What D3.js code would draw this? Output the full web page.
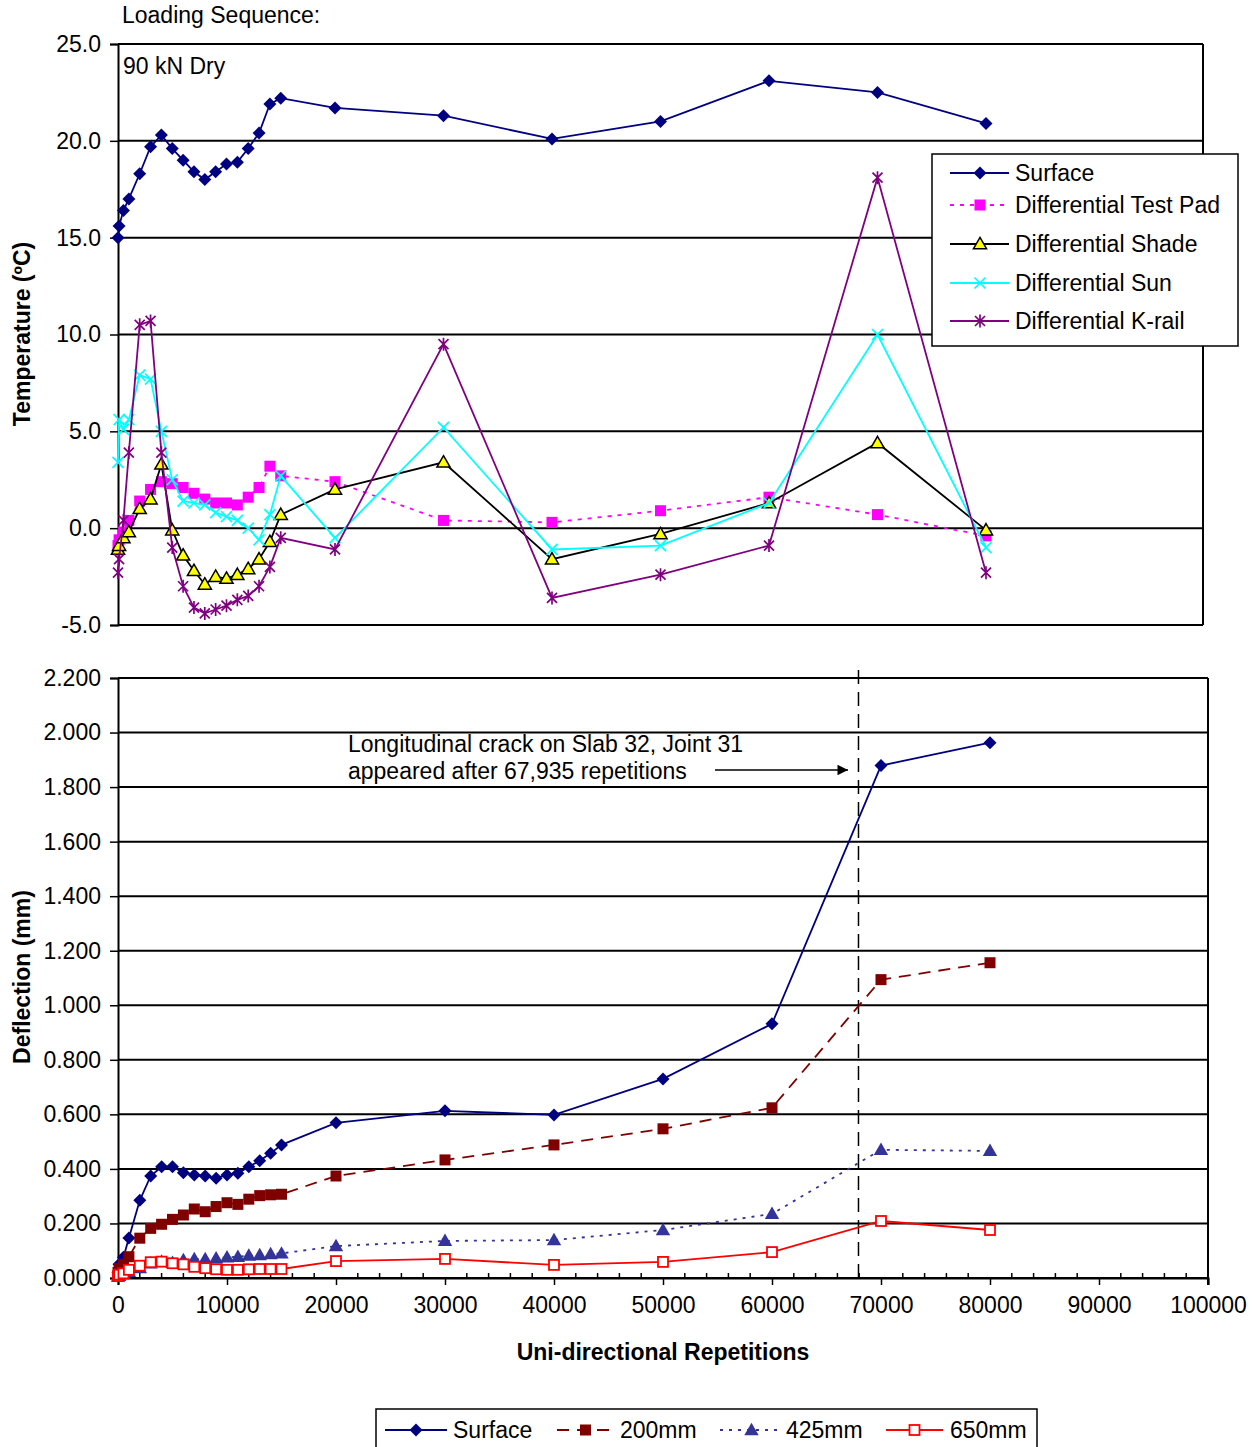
<!DOCTYPE html>
<html>
<head>
<meta charset="utf-8">
<script src="https://cdn.jsdelivr.net/npm/d3@7"></script>
<style>
  body { margin: 0; background: #fff; }
  svg { font-family: "Liberation Sans", Arial, sans-serif; }
</style>
</head>
<body>
<div id="chart"></div>
<script>
// repetitions (shared x values for every series)
const reps = [0, 100, 500, 1000, 2000, 3000, 4000, 5000, 6000, 7000, 8000, 9000, 10000,
  11000, 12000, 13000, 14000, 15000, 20000, 30000, 40000, 50000, 60000, 70000, 80000];

// temperature (ºC)
const tSurface = [15.0, 15.6, 16.4, 17.0, 18.3, 19.7, 20.3, 19.6, 19.0, 18.4, 18.0, 18.4, 18.8,
  18.9, 19.6, 20.4, 21.9, 22.2, 21.7, 21.3, 20.1, 21.0, 23.1, 22.5, 20.9];
const tTestPad = [-0.9, -0.6, -0.2, 0.4, 1.4, 2.0, 2.4, 2.3, 2.1, 1.8, 1.5, 1.3, 1.3,
  1.2, 1.6, 2.1, 3.2, 2.7, 2.4, 0.4, 0.3, 0.9, 1.6, 0.7, -0.4];
const tShade = [-1.1, -0.9, -0.5, -0.2, 1.0, 1.5, 3.3, -0.1, -1.4, -2.2, -2.9, -2.5, -2.6,
  -2.4, -2.1, -1.6, -0.7, 0.7, 2.0, 3.4, -1.6, -0.3, 1.3, 4.4, -0.1];
const tSun = [3.4, 5.6, 5.1, 5.6, 7.9, 7.7, 5.0, 2.5, 1.4, 1.3, 1.2, 0.8, 0.6,
  0.4, 0.0, -0.6, 0.7, 2.7, -0.5, 5.2, -1.1, -0.9, 1.3, 10.0, -1.0];
const tKrail = [-2.3, -1.6, 0.4, 3.9, 10.5, 10.7, 3.9, -1.0, -3.0, -4.1, -4.4, -4.2, -4.0,
  -3.7, -3.5, -3.0, -2.0, -0.5, -1.1, 9.5, -3.6, -2.4, -0.9, 18.1, -2.3];

// deflection (mm)
const dSurface = [0.02, 0.05, 0.076, 0.147, 0.285, 0.374, 0.408, 0.408, 0.386, 0.378, 0.374, 0.366, 0.378,
  0.384, 0.408, 0.43, 0.457, 0.488, 0.569, 0.613, 0.598, 0.73, 0.932, 1.879, 1.963];
const d200 = [0.02, 0.035, 0.05, 0.078, 0.146, 0.182, 0.197, 0.215, 0.231, 0.253, 0.243, 0.262, 0.276,
  0.27, 0.289, 0.302, 0.305, 0.307, 0.374, 0.433, 0.488, 0.547, 0.624, 1.094, 1.156];
const d425 = [0.005, 0.008, 0.015, 0.023, 0.036, 0.054, 0.06, 0.056, 0.066, 0.069, 0.069, 0.072, 0.076,
  0.078, 0.082, 0.084, 0.088, 0.09, 0.117, 0.136, 0.139, 0.176, 0.235, 0.47, 0.466];
const d650 = [0.007, 0.012, 0.017, 0.03, 0.045, 0.058, 0.06, 0.054, 0.05, 0.041, 0.036, 0.032, 0.03,
  0.03, 0.032, 0.033, 0.033, 0.033, 0.062, 0.07, 0.048, 0.059, 0.095, 0.209, 0.176];

const tempTicks = [-5, 0, 5, 10, 15, 20, 25];
const deflTicks = [0, 0.2, 0.4, 0.6, 0.8, 1.0, 1.2, 1.4, 1.6, 1.8, 2.0, 2.2];
const repTicks = [0, 10000, 20000, 30000, 40000, 50000, 60000, 70000, 80000, 90000, 100000];
const crackAt = 67935;

const W = 1257, H = 1447;
const FS = 23;
const svg = d3.select("#chart").append("svg").attr("width", W).attr("height", H)
  .attr("font-size", FS);

// custom marker paths
const diamondMark = r => `M0,${-r}L${r},0L0,${r}L${-r},0Z`;
const xMark = r => `M${-r},${-r}L${r},${r}M${-r},${r}L${r},${-r}`;
const starMark = r => `M${-r},${-r}L${r},${r}M${-r},${r}L${r},${-r}M0,${-r * 1.3}L0,${r * 1.3}`;

function drawMarker(g, kind, color) {
  if (kind === "diamond") {
    g.append("path").attr("d", diamondMark(6.5)).attr("fill", color);
  } else if (kind === "square") {
    g.append("rect").attr("x", -5.5).attr("y", -5.5).attr("width", 11).attr("height", 11).attr("fill", color);
  } else if (kind === "openSquare") {
    g.append("rect").attr("x", -5).attr("y", -5).attr("width", 10).attr("height", 10)
      .attr("fill", "#fff").attr("stroke", color).attr("stroke-width", 1.8);
  } else if (kind === "triYellow") {
    g.append("path").attr("d", d3.symbol(d3.symbolTriangle, 75)()).attr("transform", "translate(0,1)")
      .attr("fill", "#ffff00").attr("stroke", "#000").attr("stroke-width", 1.5);
  } else if (kind === "triangle") {
    g.append("path").attr("d", d3.symbol(d3.symbolTriangle, 90)()).attr("transform", "translate(0,1)")
      .attr("fill", color);
  } else if (kind === "x") {
    g.append("path").attr("d", xMark(5.5)).attr("stroke", color).attr("stroke-width", 1.7).attr("fill", "none");
  } else if (kind === "star") {
    g.append("path").attr("d", starMark(5)).attr("stroke", color).attr("stroke-width", 1.7).attr("fill", "none");
  }
}

function drawSeries(g, x, y, vals, s) {
  const pts = reps.map((r, i) => [r, vals[i]]);
  g.append("path")
    .datum(pts)
    .attr("fill", "none")
    .attr("stroke", s.color)
    .attr("stroke-width", 1.8)
    .attr("stroke-dasharray", s.dash || null)
    .attr("d", d3.line().x(d => x(d[0])).y(d => y(d[1])));
  g.selectAll(null)
    .data(pts)
    .enter()
    .append("g")
    .attr("transform", d => `translate(${x(d[0])},${y(d[1])})`)
    .each(function() { drawMarker(d3.select(this), s.marker, s.color); });
}

function styleAxis(ax) {
  ax.select(".domain").attr("stroke-width", 2);
  ax.selectAll(".tick line").attr("stroke-width", 1.5);
  ax.selectAll("text").attr("font-size", FS).attr("font-family", "Liberation Sans, Arial").attr("fill", "#000");
}

// ---------- top chart: temperature ----------
const xTop = d3.scaleLinear().domain([0, 100000]).range([118, 1203]);
const yTop = d3.scaleLinear().domain([-5, 25]).range([625, 44]);
const topG = svg.append("g");

topG.selectAll(".grid").data(tempTicks).enter().append("line")
  .attr("x1", 118).attr("x2", 1203)
  .attr("y1", d => yTop(d)).attr("y2", d => yTop(d))
  .attr("stroke", "#000").attr("stroke-width", 2);
topG.append("line").attr("x1", 1203).attr("x2", 1203).attr("y1", 44).attr("y2", 625)
  .attr("stroke", "#000").attr("stroke-width", 2);

const yAxisTop = topG.append("g").attr("transform", "translate(118,0)")
  .call(d3.axisLeft(yTop).tickValues(tempTicks).tickFormat(d => d.toFixed(1)).tickSize(8).tickPadding(9));
styleAxis(yAxisTop);

const topSeries = [
  { name: "Surface", vals: tSurface, color: "#000080", marker: "diamond" },
  { name: "Differential Test Pad", vals: tTestPad, color: "#ff00ff", marker: "square", dash: "4,6" },
  { name: "Differential Shade", vals: tShade, color: "#000000", marker: "triYellow" },
  { name: "Differential Sun", vals: tSun, color: "#00ffff", marker: "x" },
  { name: "Differential K-rail", vals: tKrail, color: "#800080", marker: "star" }
];
topSeries.forEach(s => drawSeries(topG, xTop, yTop, s.vals, s));

topG.append("text").attr("x", 122).attr("y", 23).text("Loading Sequence:");
topG.append("text").attr("x", 123).attr("y", 74).text("90 kN Dry");
topG.append("text")
  .attr("transform", "translate(30,334) rotate(-90)")
  .attr("text-anchor", "middle").attr("font-weight", "bold")
  .text("Temperature (ºC)");

// legend top
const legTop = topG.append("g");
legTop.append("rect").attr("x", 932).attr("y", 154).attr("width", 306).attr("height", 192)
  .attr("fill", "#fff").attr("stroke", "#000").attr("stroke-width", 1.5);
const legTopY = [173, 205, 244, 283, 321];
topSeries.forEach((s, i) => {
  const gy = legTopY[i];
  legTop.append("line").attr("x1", 950).attr("x2", 1009).attr("y1", gy).attr("y2", gy)
    .attr("stroke", s.color).attr("stroke-width", 1.8).attr("stroke-dasharray", s.dash || null);
  drawMarker(legTop.append("g").attr("transform", `translate(980,${gy})`), s.marker, s.color);
  legTop.append("text").attr("x", 1015).attr("y", gy + 8).text(s.name);
});

// ---------- bottom chart: deflection ----------
const xBot = d3.scaleLinear().domain([0, 100000]).range([118, 1208]);
const yBot = d3.scaleLinear().domain([0, 2.2]).range([1278, 678]);
const botG = svg.append("g");

botG.selectAll(".grid").data(deflTicks).enter().append("line")
  .attr("x1", 118).attr("x2", 1208)
  .attr("y1", d => yBot(d)).attr("y2", d => yBot(d))
  .attr("stroke", "#000").attr("stroke-width", 2);
botG.append("line").attr("x1", 1208).attr("x2", 1208).attr("y1", 678).attr("y2", 1285)
  .attr("stroke", "#000").attr("stroke-width", 2);

const yAxisBot = botG.append("g").attr("transform", "translate(118,0)")
  .call(d3.axisLeft(yBot).tickValues(deflTicks).tickFormat(d => d.toFixed(3)).tickSize(8).tickPadding(9));
styleAxis(yAxisBot);

// minor ticks inside, every 2000
const minor = d3.range(0, 100001, 2000).filter(v => v % 10000 !== 0);
botG.selectAll(".minor").data(minor).enter().append("line")
  .attr("x1", d => xBot(d)).attr("x2", d => xBot(d)).attr("y1", 1278).attr("y2", 1273)
  .attr("stroke", "#000").attr("stroke-width", 1.5);

const xAxisBot = botG.append("g").attr("transform", "translate(0,1278)")
  .call(d3.axisBottom(xBot).tickValues(repTicks).tickFormat(d3.format("d")).tickSize(7).tickPadding(12));
styleAxis(xAxisBot);

// crack line
botG.append("line").attr("x1", xBot(crackAt)).attr("x2", xBot(crackAt)).attr("y1", 670).attr("y2", 1278)
  .attr("stroke", "#000").attr("stroke-width", 1.5).attr("stroke-dasharray", "14,8");

const botSeries = [
  { name: "Surface", vals: dSurface, color: "#000080", marker: "diamond" },
  { name: "200mm", vals: d200, color: "#800000", marker: "square", dash: "12,8" },
  { name: "425mm", vals: d425, color: "#333399", marker: "triangle", dash: "3,6" },
  { name: "650mm", vals: d650, color: "#ff0000", marker: "openSquare" }
];
botSeries.forEach(s => drawSeries(botG, xBot, yBot, s.vals, s));

// annotation
botG.append("text").attr("x", 348).attr("y", 752).text("Longitudinal crack on Slab 32, Joint 31");
botG.append("text").attr("x", 348).attr("y", 779).text("appeared after 67,935 repetitions");
svg.append("defs").append("marker").attr("id", "arrow")
  .attr("viewBox", "0 0 10 10").attr("refX", 10).attr("refY", 5)
  .attr("markerWidth", 9).attr("markerHeight", 7).attr("orient", "auto")
  .append("path").attr("d", "M0,0L10,5L0,10z").attr("fill", "#000");
botG.append("line").attr("x1", 715).attr("x2", 848).attr("y1", 770).attr("y2", 770)
  .attr("stroke", "#000").attr("stroke-width", 1.5).attr("marker-end", "url(#arrow)");

botG.append("text")
  .attr("transform", "translate(30,977) rotate(-90)")
  .attr("text-anchor", "middle").attr("font-weight", "bold")
  .text("Deflection (mm)");
botG.append("text").attr("x", 663).attr("y", 1360).attr("text-anchor", "middle")
  .attr("font-weight", "bold").text("Uni-directional Repetitions");

// legend bottom
const legBot = botG.append("g");
legBot.append("rect").attr("x", 376).attr("y", 1409).attr("width", 661).attr("height", 45)
  .attr("fill", "#fff").attr("stroke", "#000").attr("stroke-width", 1.5);
const legBotX = [[385, 447, 453], [557, 614, 620], [720, 783, 786], [886, 943, 950]];
botSeries.forEach((s, i) => {
  const [x1, x2, tx] = legBotX[i];
  legBot.append("line").attr("x1", x1).attr("x2", x2).attr("y1", 1430).attr("y2", 1430)
    .attr("stroke", s.color).attr("stroke-width", 1.8).attr("stroke-dasharray", s.dash || null);
  drawMarker(legBot.append("g").attr("transform", `translate(${(x1 + x2) / 2},1430)`), s.marker, s.color);
  legBot.append("text").attr("x", tx).attr("y", 1438).text(s.name);
});
</script>
</body>
</html>
